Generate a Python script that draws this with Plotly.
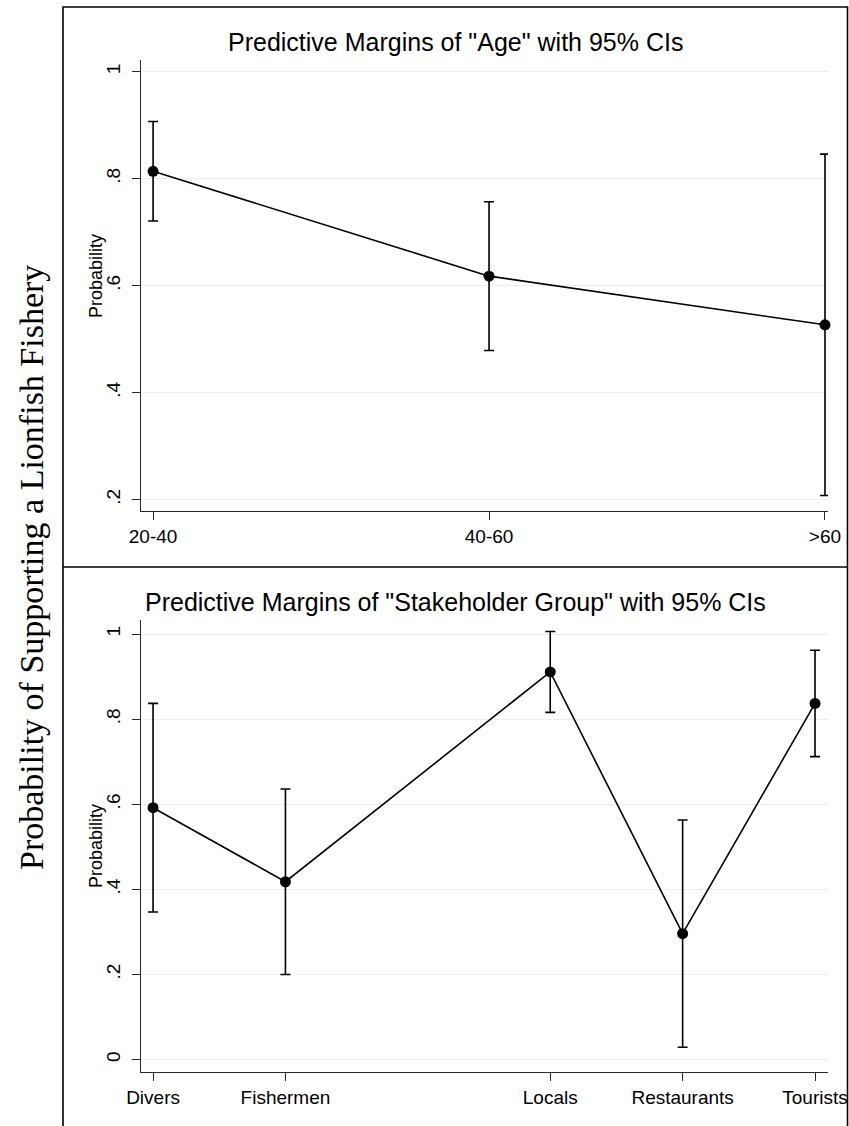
import plotly.graph_objects as go

# Predictive margins by age band
age_labels = ["20-40", "40-60", ">60"]
age_codes = [1, 2, 3]
age_margin = [0.814, 0.618, 0.527]
age_ci_low = [0.721, 0.479, 0.208]
age_ci_high = [0.907, 0.757, 0.846]

# Predictive margins by stakeholder group (group codes as used in the model)
group_labels = ["Divers", "Fishermen", "Locals", "Restaurants", "Tourists"]
group_codes = [1, 2, 4, 5, 6]
group_margin = [0.592, 0.418, 0.911, 0.296, 0.837]
group_ci_low = [0.347, 0.200, 0.816, 0.029, 0.712]
group_ci_high = [0.837, 0.636, 1.006, 0.563, 0.962]

age_ticks = [0.2, 0.4, 0.6, 0.8, 1.0]
age_tick_text = [".2", ".4", ".6", ".8", "1"]
group_ticks = [0, 0.2, 0.4, 0.6, 0.8, 1.0]
group_tick_text = ["0", ".2", ".4", ".6", ".8", "1"]

W, H = 849, 1126
SANS = "Liberation Sans, Arial, Helvetica, sans-serif"
SERIF = "Liberation Serif, Times New Roman, serif"
GRID = "#e6eff1"
AXIS = "#2a2a2a"


def px_x(p):
    return p / W


def px_y(p):
    return 1 - p / H


def margin_trace(x, m, lo, hi, xa, ya):
    return go.Scatter(
        x=x, y=m, xaxis=xa, yaxis=ya,
        mode="lines+markers",
        line=dict(color="black", width=1.6),
        marker=dict(color="black", size=11),
        error_y=dict(
            type="data", symmetric=False,
            array=[h - v for h, v in zip(hi, m)],
            arrayminus=[v - l for v, l in zip(m, lo)],
            color="black", thickness=1.6, width=5,
        ),
        showlegend=False, hoverinfo="skip", cliponaxis=False,
    )


fig = go.Figure()
fig.add_trace(margin_trace(age_codes, age_margin, age_ci_low, age_ci_high, "x", "y"))
fig.add_trace(margin_trace(group_codes, group_margin, group_ci_low, group_ci_high, "x2", "y2"))

xaxis_common = dict(
    showline=True, linecolor=AXIS, linewidth=1.2,
    ticks="outside", ticklen=8, tickcolor=AXIS, tickwidth=1.2,
    showgrid=False, zeroline=False, automargin=False,
    tickfont=dict(family=SANS, size=19, color="black"),
)
yaxis_common = dict(
    showline=True, linecolor=AXIS, linewidth=1.2,
    ticks="outside", ticklen=8, tickcolor=AXIS, tickwidth=1.2,
    showgrid=True, gridcolor=GRID, gridwidth=1.2, zeroline=False,
    tickangle=-90, automargin=False, ticklabelstandoff=4,
    tickfont=dict(family=SANS, size=19, color="black"),
)

fig.update_layout(
    width=W, height=H, autosize=False,
    margin=dict(l=0, r=0, t=0, b=0),
    paper_bgcolor="white", plot_bgcolor="white",
    xaxis=dict(xaxis_common, domain=[px_x(141), px_x(828)], anchor="y",
               range=[0.964, 3.009], tickvals=age_codes, ticktext=age_labels),
    yaxis=dict(yaxis_common, domain=[px_y(511), px_y(60)], anchor="x",
               range=[0.179, 1.022], tickvals=age_ticks, ticktext=age_tick_text),
    xaxis2=dict(xaxis_common, domain=[px_x(141), px_x(828)], anchor="y2",
                range=[0.909, 6.098], tickvals=group_codes, ticktext=group_labels),
    yaxis2=dict(yaxis_common, domain=[px_y(1072), px_y(620)], anchor="x2",
                range=[-0.029, 1.033], tickvals=group_ticks, ticktext=group_tick_text),
)

# Panel frames
frame = dict(color="black", width=1.6)
fig.add_shape(type="rect", xref="paper", yref="paper",
              x0=px_x(63), x1=px_x(847.5), y0=-0.01, y1=px_y(7), line=frame)
fig.add_shape(type="line", xref="paper", yref="paper",
              x0=px_x(63), x1=px_x(847.5), y0=px_y(567), y1=px_y(567), line=frame)

annotations = [
    dict(text='Predictive Margins of "Age" with 95% CIs', x=px_x(455), y=px_y(42),
         font=dict(family=SANS, size=25, color="black")),
    dict(text='Predictive Margins of "Stakeholder Group" with 95% CIs', x=px_x(455), y=px_y(602),
         font=dict(family=SANS, size=25, color="black")),
    dict(text="Probability", x=px_x(96), y=px_y(276), textangle=-90,
         font=dict(family=SANS, size=18, color="black")),
    dict(text="Probability", x=px_x(96), y=px_y(846), textangle=-90,
         font=dict(family=SANS, size=18, color="black")),
    dict(text="Probability of Supporting a Lionfish Fishery", x=px_x(31), y=px_y(568),
         textangle=-90, font=dict(family=SERIF, size=34, color="black")),
]
for a in annotations:
    fig.add_annotation(xref="paper", yref="paper", showarrow=False,
                       xanchor="center", yanchor="middle", **a)

fig.write_html("out.html")
